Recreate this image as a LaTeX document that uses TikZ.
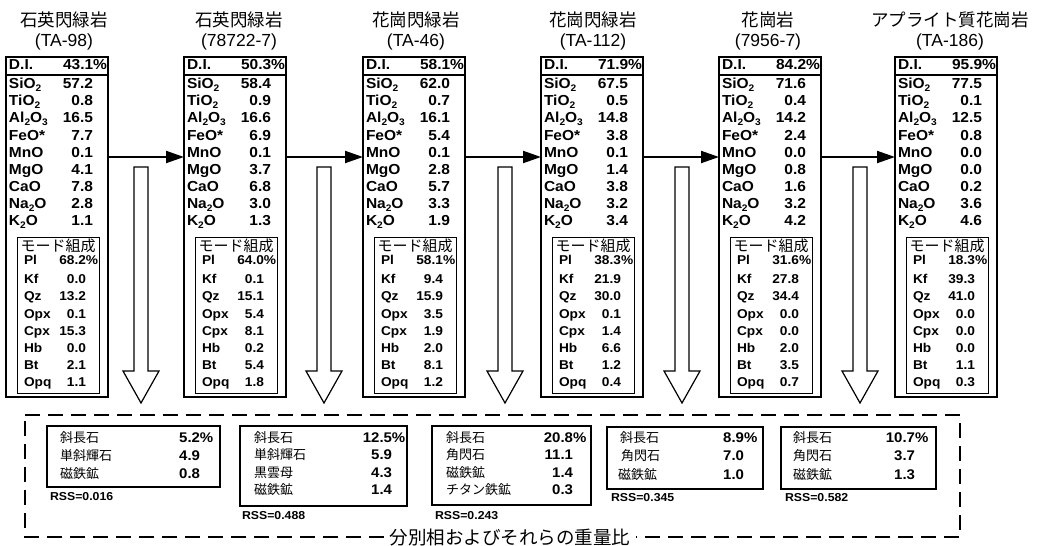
\documentclass[tikz,border=0pt]{standalone}
\usepackage{fontspec}
\setmainfont{Liberation Sans}
\newfontfamily\wide{Liberation Sans}[FakeStretch=1.07]
\newfontfamily\jp{Noto Sans CJK JP}
\usetikzlibrary{arrows.meta}
\newcommand\sub[1]{\raisebox{-0.35ex}{\fontsize{9.5}{9.5}\selectfont #1}}
\newcommand\mlab[1]{\ifcase#1\or SiO\sub2\or TiO\sub2\or Al\sub2O\sub3\or FeO*\or MnO\or MgO\or CaO\or Na\sub2O\or K\sub2O\fi}
\newcommand\modelab[1]{\ifcase#1\or Pl\or Kf\or Qz\or Opx\or Cpx\or Hb\or Bt\or Opq\fi}
\tikzset{
  every node/.style={inner sep=0pt, outer sep=0pt},
  mainf/.style={font=\wide\fontsize{14.5}{14.5}\selectfont\bfseries},
  lab/.style={mainf, anchor=mid west},
  val/.style={mainf, anchor=mid east},
  slab/.style={font=\wide\fontsize{12.8}{12.8}\selectfont\bfseries, anchor=mid west},
  sval/.style={font=\wide\fontsize{12.8}{12.8}\selectfont\bfseries, anchor=mid east},
  head/.style={font=\fontsize{17.5}{17.5}\selectfont},
  outerbox/.style={draw, line width=1.4pt, minimum width=102pt, minimum height=340pt, anchor=north west},
  innerbox/.style={draw, line width=1pt, minimum width=82pt, minimum height=156pt, anchor=north west},
  harrow/.style={line width=2pt, -{Triangle[length=18pt,width=12pt]}},
  hollow/.style={draw, line width=1.2pt, fill=white},
  resbox/.style={draw, line width=1.8pt, anchor=north west},
  mname/.style={font=\jp\fontsize{13}{13}\selectfont, anchor=mid west},
  mval/.style={font=\wide\fontsize{14}{14}\selectfont\bfseries, anchor=mid east},
  rss/.style={font=\wide\fontsize{11.5}{11.5}\selectfont\bfseries, anchor=mid west},
}
% #1 id, #2 left x, #3 header centre x, #4 rock name, #5 code, #6 DI, #7 oxides, #8 modes
\newcommand\rockcol[8]{%
  \node[head, font=\jp\fontsize{17.5}{17.5}\selectfont] (h#1) at (#3,20) {#4};
  \node[head] (k#1) at (#3,42) {(#5)};
  \node[outerbox] (b#1) at (#2,57) {};
  \draw[line width=2.8pt] ([yshift=-18pt]b#1.north west) -- ([yshift=-18pt]b#1.north east);
  \node[lab] (d#1) at ({#2+3},67) {D.I.};
  \node[val] (dv#1) at ({#2+101},67) {#6\%};
  \foreach \v [count=\i] in {#7} {
    \node[lab] (l#1-\i) at ({#2+3},{69+17.1*\i}) {\mlab{\i}};
    \node[val] (v#1-\i) at ({#2+87},{69+17.1*\i}) {\v};
  }
  \node[innerbox] (i#1) at ({#2+11},237) {};
  \node[font=\jp\fontsize{15}{15}\selectfont, anchor=base] (m#1) at ({#2+52},251) {モード組成};
  \foreach \v [count=\i] in {#8} {
    \pgfmathsetmacro\yy{\i==1 ? 262 : 281+17.2*(\i-2)}
    \node[slab] (ml#1-\i) at ({#2+18},\yy) {\modelab{\i}};
    \node[sval] (mv#1-\i) at ({#2+80},\yy) {\v\ifnum\i=1\rlap{\%}\fi};
  }
}
\newcommand\hollowarrow[1]{%
  \draw[hollow] ({#1-7},167) -- ({#1+7},167) -- ({#1+7},371) -- ({#1+18},371)
     -- (#1,403) -- ({#1-18},371) -- ({#1-7},371) -- cycle;
}
\begin{document}
\begin{tikzpicture}[x=1pt,y=-1pt]
\useasboundingbox[fill=white] (0,0) rectangle (1037,546);
\rockcol{1}{6}{64}{石英閃緑岩}{TA-98}{43.1}{57.2,0.8,16.5,7.7,0.1,4.1,7.8,2.8,1.1}{68.2,0.0,13.2,0.1,15.3,0.0,2.1,1.1}
\rockcol{2}{184}{239}{石英閃緑岩}{78722-7}{50.3}{58.4,0.9,16.6,6.9,0.1,3.7,6.8,3.0,1.3}{64.0,0.1,15.1,5.4,8.1,0.2,5.4,1.8}
\rockcol{3}{363}{416}{花崗閃緑岩}{TA-46}{58.1}{62.0,0.7,16.1,5.4,0.1,2.8,5.7,3.3,1.9}{58.1,9.4,15.9,3.5,1.9,2.0,8.1,1.2}
\rockcol{4}{541}{593}{花崗閃緑岩}{TA-112}{71.9}{67.5,0.5,14.8,3.8,0.1,1.4,3.8,3.2,3.4}{38.3,21.9,30.0,0.1,1.4,6.6,1.2,0.4}
\rockcol{5}{719}{768}{花崗岩}{7956-7}{84.2}{71.6,0.4,14.2,2.4,0.0,0.8,1.6,3.2,4.2}{31.6,27.8,34.4,0.0,0.0,2.0,3.5,0.7}
\rockcol{6}{895}{950}{アプライト質花崗岩}{TA-186}{95.9}{77.5,0.1,12.5,0.8,0.0,0.0,0.2,3.6,4.6}{18.3,39.3,41.0,0.0,0.0,0.0,1.1,0.3}

\coordinate (ay) at (0,157);
\foreach \a/\b in {1/2,2/3,3/4,4/5,5/6}{
  \draw[harrow] (b\a.east |- ay) -- (b\b.west |- ay);
}

\foreach \cx in {141,324,505,682,860}{\hollowarrow{\cx}}

% dashed frame
\draw[line width=1.2pt, dash pattern=on 15pt off 8pt] (25,415) -- (960,415) -- (960,537) -- (25,537) -- cycle;
\node[font=\jp\fontsize{18.5}{18.5}\selectfont, fill=white, inner xsep=6pt, inner ysep=2pt] (lbl) at (510,538) {分別相およびそれらの重量比};

% fractionating phase boxes
\node[resbox, minimum width=173pt, minimum height=61pt] (r1) at (47,426) {};
\node[mname] (r1n1) at (60,440) {斜長石};   \node[mval] (r1v1) at (200,440) {5.2\rlap{\%}};
\node[mname] (r1n2) at (60,458) {単斜輝石}; \node[mval] (r1v2) at (200,458) {4.9};
\node[mname] (r1n3) at (60,476) {磁鉄鉱};   \node[mval] (r1v3) at (200,476) {0.8};
\node[rss] (s1) at (50,498) {RSS=0.016};

\node[resbox, minimum width=167pt, minimum height=80pt] (r2) at (240,426) {};
\node[mname] (r2n1) at (254,440) {斜長石};   \node[mval] (r2v1) at (392,440) {12.5\rlap{\%}};
\node[mname] (r2n2) at (254,457) {単斜輝石}; \node[mval] (r2v2) at (392,457) {5.9};
\node[mname] (r2n3) at (254,475) {黒雲母};   \node[mval] (r2v3) at (392,475) {4.3};
\node[mname] (r2n4) at (254,492) {磁鉄鉱};   \node[mval] (r2v4) at (392,492) {1.4};
\node[rss] (s2) at (242,517) {RSS=0.488};

\node[resbox, minimum width=159pt, minimum height=79pt] (r3) at (432,426) {};
\node[mname] (r3n1) at (446,440) {斜長石};     \node[mval] (r3v1) at (573,440) {20.8\rlap{\%}};
\node[mname] (r3n2) at (446,457) {角閃石};     \node[mval] (r3v2) at (573,457) {11.1};
\node[mname] (r3n3) at (446,475) {磁鉄鉱};     \node[mval] (r3v3) at (573,475) {1.4};
\node[mname] (r3n4) at (446,492) {チタン鉄鉱}; \node[mval] (r3v4) at (573,492) {0.3};
\node[rss] (s3) at (435,517) {RSS=0.243};

\node[resbox, minimum width=156pt, minimum height=62pt] (r4) at (607,427) {};
\node[mname] (r4n1) at (620,440) {斜長石}; \node[mval] (r4v1) at (744,440) {8.9\rlap{\%}};
\node[mname] (r4n2) at (621,458) {角閃石}; \node[mval] (r4v2) at (744,458) {7.0};
\node[mname] (r4n3) at (618,477) {磁鉄鉱}; \node[mval] (r4v3) at (744,477) {1.0};
\node[rss] (s4) at (611,499) {RSS=0.345};

\node[resbox, minimum width=155pt, minimum height=62pt] (r5) at (781,427) {};
\node[mname] (r5n1) at (793,440) {斜長石}; \node[mval] (r5v1) at (915,440) {10.7\rlap{\%}};
\node[mname] (r5n2) at (793,458) {角閃石}; \node[mval] (r5v2) at (915,458) {3.7};
\node[mname] (r5n3) at (793,477) {磁鉄鉱}; \node[mval] (r5v3) at (915,477) {1.3};
\node[rss] (s5) at (785,499) {RSS=0.582};
\end{tikzpicture}
\end{document}
